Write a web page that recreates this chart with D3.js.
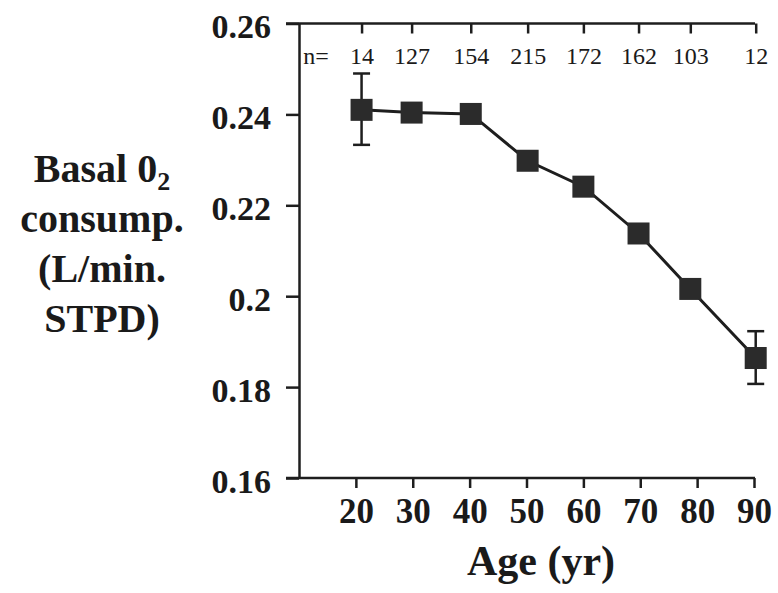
<!DOCTYPE html>
<html>
<head>
<meta charset="utf-8">
<script src="https://cdn.jsdelivr.net/npm/d3@7"></script>
<style>
  html, body { margin: 0; padding: 0; background: #fff; }
  svg { display: block; }
  text { font-family: "Liberation Serif", "Times New Roman", serif; fill: #1a1a1a; }
</style>
</head>
<body>
<script>
// Mean age of each group and basal O2 consumption (L/min STPD)
const ages = [21.0, 29.8, 40.2, 50.2, 60.0, 69.7, 78.8, 90.3];
const o2 = [0.241, 0.2404, 0.2401, 0.2298, 0.2241, 0.2138, 0.2016, 0.1864];
// Error bars are drawn only for the two end groups
const errTop = [0.249, null, null, null, null, null, null, 0.1923];
const errBottom = [0.2333, null, null, null, null, null, null, 0.1807];
const counts = [14, 127, 154, 215, 172, 162, 103, 12];
const ageTicks = [20, 30, 40, 50, 60, 70, 80, 90];
const o2Ticks = [0.16, 0.18, 0.2, 0.22, 0.24, 0.26];
const yLabelLines = ["Basal 0", "consump.", "(L/min.", "STPD)"];

const W = 778, H = 593;
const ink = "#1e1e1e";

const svg = d3.select("body").append("svg").attr("width", W).attr("height", H);

const x = d3.scaleLinear().domain([10, 90]).range([299, 754]);
const y = d3.scaleLinear().domain([0.16, 0.26]).range([478, 23.5]);

// Left axis
const yAxis = d3.axisLeft(y).tickValues(o2Ticks).tickSize(13).tickSizeOuter(0)
  .tickFormat(d => d3.format("")(+d.toFixed(2)));
const gy = svg.append("g").attr("transform", `translate(${x(10)},0)`).call(yAxis);
gy.select(".domain").attr("stroke", ink).attr("stroke-width", 2.5);
gy.selectAll(".tick line").attr("stroke", ink).attr("stroke-width", 2.5);
gy.selectAll(".tick text")
  .attr("x", -28).attr("dy", "0.42em")
  .style("font-size", "34px").style("font-weight", "bold").attr("fill", ink);

// Bottom axis
const xAxis = d3.axisBottom(x).tickValues(ageTicks).tickSize(10).tickSizeOuter(0);
const gx = svg.append("g").attr("transform", `translate(0,${y(0.16)})`).call(xAxis);
gx.select(".domain").remove();
gx.selectAll(".tick line").attr("stroke", ink).attr("stroke-width", 2.5);
gx.selectAll(".tick text")
  .attr("y", 45).attr("dy", 0)
  .style("font-size", "35px").style("font-weight", "bold").attr("fill", ink);

// Top axis carrying group sizes
const topAxis = d3.axisTop(x).tickValues(ages).tickSizeInner(-10).tickSizeOuter(0)
  .tickFormat((d, i) => counts[i]);
const gt = svg.append("g").attr("transform", `translate(0,${y(0.26)})`).call(topAxis);
gt.select(".domain").remove();
gt.selectAll(".tick line").attr("stroke", ink).attr("stroke-width", 2.5);
gt.selectAll(".tick text")
  .attr("y", 40).attr("dy", 0)
  .style("font-size", "24px").attr("fill", ink);

// Horizontal frame lines, extended left to the tick length
[0.16, 0.26].forEach(v => {
  svg.append("line")
    .attr("x1", x(10) - 13).attr("x2", x(90) + 1)
    .attr("y1", y(v)).attr("y2", y(v))
    .attr("stroke", ink).attr("stroke-width", 2.5);
});

svg.append("text")
  .attr("x", x(10) + 17).attr("y", y(0.26) + 40)
  .attr("text-anchor", "middle")
  .style("font-size", "24px")
  .text("n=");

// Error bars
const capW = 17;
const eb = svg.append("g").attr("stroke", ink).attr("stroke-width", 2.5);
ages.forEach((a, i) => {
  if (errTop[i] == null) return;
  eb.append("line").attr("x1", x(a)).attr("x2", x(a)).attr("y1", y(errTop[i])).attr("y2", y(errBottom[i]));
  eb.append("line").attr("x1", x(a) - capW / 2).attr("x2", x(a) + capW / 2).attr("y1", y(errTop[i])).attr("y2", y(errTop[i]));
  eb.append("line").attr("x1", x(a) - capW / 2).attr("x2", x(a) + capW / 2).attr("y1", y(errBottom[i])).attr("y2", y(errBottom[i]));
});

// Connecting line
const pts = ages.map((a, i) => [a, o2[i]]);
svg.append("path")
  .attr("d", d3.line().x(d => x(d[0])).y(d => y(d[1]))(pts))
  .attr("fill", "none").attr("stroke", ink).attr("stroke-width", 3);

// Square markers
const s = 22;
svg.append("g").selectAll("rect").data(pts).join("rect")
  .attr("x", d => x(d[0]) - s / 2).attr("y", d => y(d[1]) - s / 2)
  .attr("width", s).attr("height", s)
  .attr("fill", "#2b2b2b");

// Axis titles
const lab = svg.append("text")
  .attr("text-anchor", "middle")
  .style("font-size", "40px").style("font-weight", "bold");
yLabelLines.forEach((t, i) => {
  const ts = lab.append("tspan").attr("x", 102).attr("y", 182 + i * 50).text(t);
  if (i === 0) {
    lab.append("tspan").attr("dy", 8).style("font-size", "26px").text("2");
  }
});

svg.append("text")
  .attr("x", 541).attr("y", 575)
  .attr("text-anchor", "middle")
  .style("font-size", "42px").style("font-weight", "bold")
  .text("Age (yr)");
</script>
</body>
</html>
